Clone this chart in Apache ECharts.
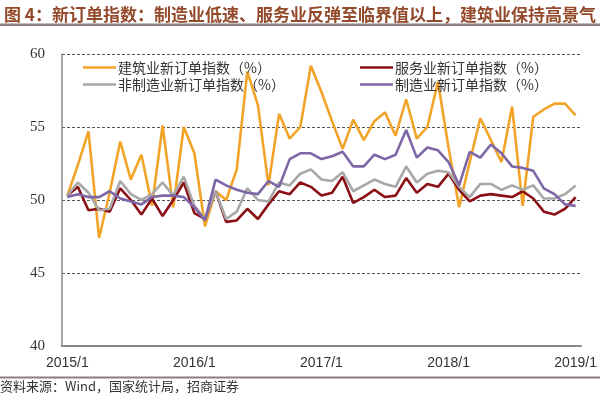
<!DOCTYPE html>
<html>
<head>
<meta charset="utf-8">
<script src="https://cdn.jsdelivr.net/npm/echarts@6/dist/echarts.min.js"></script>
<style>
html,body{margin:0;padding:0;background:#fff;}
#chart{width:600px;height:395px;}
</style>
</head>
<body>
<div id="chart"></div>
<script>
// Categories: monthly 2015/1 .. 2019/1
const categories = [];
for (let y = 2015; y <= 2019; y++) {
  for (let m = 1; m <= 12; m++) {
    if (y === 2019 && m > 1) break;
    categories.push(y + '/' + m);
  }
}

const construction = [50.3,52.4,54.7,47.4,50.5,54.0,51.4,53.1,49.6,55.1,49.5,55.0,
  53.2,48.2,50.6,50.0,52.1,58.8,56.5,51.0,55.9,54.2,55.0,59.2,
  57.4,55.4,53.5,55.5,54.1,55.4,56.0,54.4,56.9,54.2,55.0,58.1,
  53.6,49.5,52.6,55.6,54.1,52.6,56.4,49.6,55.7,56.2,56.6,56.6,
  55.8];
const services = [50.3,50.9,49.3,49.4,49.2,50.8,50.0,49.0,50.1,48.9,50.0,51.2,
  49.1,48.7,50.6,48.5,48.6,49.4,48.7,49.7,50.6,50.4,51.2,50.9,
  50.3,50.5,51.6,49.8,50.2,50.7,50.2,50.3,51.5,50.5,51.1,50.9,
  51.8,50.7,49.9,50.3,50.4,50.3,50.2,50.6,50.1,49.2,49.0,49.4,
  50.2];
const nonManufacturing = [50.3,51.2,50.5,49.3,49.4,51.3,50.4,50.0,50.4,51.2,50.3,51.6,
  49.6,48.7,50.6,48.7,49.2,50.8,50.0,49.9,51.2,51.0,51.8,52.1,
  51.4,51.3,51.9,50.6,51.0,51.4,51.1,50.9,52.3,51.2,51.8,52.0,
  51.9,50.9,50.2,51.1,51.1,50.7,51.0,50.7,51.0,50.1,50.1,50.4,
  51.0];
const manufacturing = [50.2,50.4,50.2,50.2,50.6,50.1,49.9,49.7,50.2,50.3,50.3,50.2,
  49.5,48.6,51.4,51.0,50.7,50.5,50.4,51.3,50.9,52.8,53.2,53.2,
  52.8,53.0,53.3,52.3,52.3,53.1,52.8,53.1,54.8,52.9,53.6,53.4,
  52.6,51.0,53.3,52.9,53.8,53.2,52.3,52.2,52.0,50.8,50.4,49.7,
  49.6];

const names = ['建筑业新订单指数（%）','服务业新订单指数（%）','非制造业新订单指数（%）','制造业新订单指数（%）'];
const colors = ['#F2A428','#8A1016','#A8A8A8','#7D67A6'];

const chart = echarts.init(document.getElementById('chart'));
const cjk = '"Noto Sans CJK SC", sans-serif';
function mk(name, data, color) {
  return {
    name: name, type: 'line', data: data, symbol: 'none', showSymbol: false,
    lineStyle: {color: color, width: 2.6}, itemStyle: {color: color},
    animation: false
  };
}
const legendCommon = {
  orient: 'vertical', icon: 'rect', itemWidth: 33, itemHeight: 2.6, itemGap: 2,
  textStyle: {fontSize: 14, lineHeight: 15, color: '#333', fontFamily: cjk, padding: [0,0,0,-3]}
};
chart.setOption({
  animation: false,
  backgroundColor: '#fff',
  title: {
    text: '图 4：新订单指数：制造业低速、服务业反弹至临界值以上，建筑业保持高景气',
    left: -1, top: 1,
    textStyle: {fontSize: 17, fontWeight: 'bold', color: '#93492A', fontFamily: cjk}
  },
  legend: [
    Object.assign({left: 78, top: 55, data: [names[0], names[2]]}, legendCommon),
    Object.assign({left: 355, top: 55, data: [names[1], names[3]]}, legendCommon)
  ],
  grid: {left: 62, right: 16, top: 54, bottom: 49},
  xAxis: {
    type: 'category', data: categories, boundaryGap: true,
    axisLine: {lineStyle: {color: '#888', width: 2}},
    axisTick: {show: false},
    axisLabel: {interval: 11, margin: 10, fontSize: 14, color: '#333', fontFamily: '"Liberation Sans", Arial, sans-serif'}
  },
  yAxis: {
    type: 'value', min: 40, max: 60, interval: 5,
    axisLine: {show: true, lineStyle: {color: '#888', width: 1.5}},
    axisTick: {show: false},
    axisLabel: {margin: 17, fontSize: 15, color: '#333', fontFamily: '"Liberation Serif", "Times New Roman", serif'},
    splitLine: {show: true, lineStyle: {color: '#555', type: [3, 2], width: 1.2}}
  },
  series: [
    mk(names[0], construction, colors[0]),
    mk(names[1], services, colors[1]),
    mk(names[2], nonManufacturing, colors[2]),
    mk(names[3], manufacturing, colors[3])
  ],
  graphic: [
    {type: 'rect', shape: {x: 0, y: 23.5, width: 600, height: 2.5}, style: {fill: '#8C7F7F'}, silent: true},
    {type: 'rect', shape: {x: 0, y: 376.5, width: 600, height: 2}, style: {fill: '#8C7F7F'}, silent: true},
    {type: 'text', left: 0, top: 380, style: {text: '资料来源：Wind，国家统计局，招商证券', font: '13px "Noto Sans CJK SC", sans-serif', fill: '#333'}, silent: true}
  ]
});
</script>
</body>
</html>
